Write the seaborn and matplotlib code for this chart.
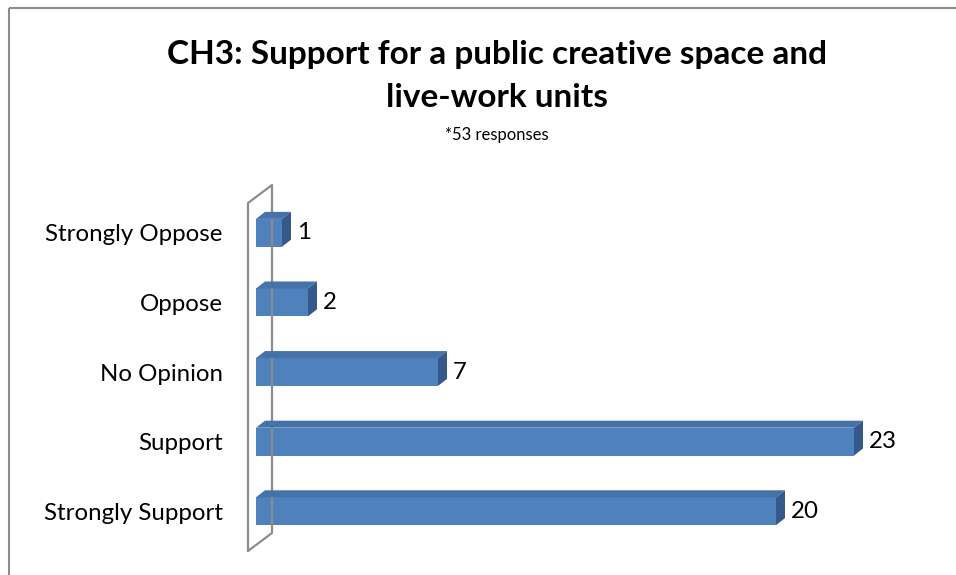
import matplotlib
matplotlib.use("Agg")
import matplotlib.pyplot as plt
import matplotlib.transforms as mtransforms
from matplotlib.patches import Polygon, Rectangle
from matplotlib.lines import Line2D
import seaborn as sns
import pandas as pd

categories = ["Strongly Oppose", "Oppose", "No Opinion", "Support", "Strongly Support"]
counts = [1, 2, 7, 23, 20]
title_text = "CH3: Support for a public creative space and\nlive-work units"
subtitle_text = "*53 responses"

FRONT = "#4F81BD"
TOP = "#4572A8"
SIDE = "#35598A"

sns.set_theme(style="white")
plt.rcParams["font.family"] = ["Lato", "DejaVu Sans"]

W, H = 956, 575
fig = plt.figure(figsize=(W / 100, H / 100), dpi=100)
fig.patch.set_facecolor("white")

# pixel helper: (x, y) from top-left in pixels -> figure fraction
px = mtransforms.Affine2D().scale(1 / W, -1 / H).translate(0, 1) + fig.transFigure

ax_left, ax_right, ax_top, ax_bottom = 256, 940, 198, 546
ax = fig.add_axes([ax_left / W, 1 - ax_bottom / H,
                   (ax_right - ax_left) / W, (ax_bottom - ax_top) / H])

df = pd.DataFrame({"category": categories, "count": counts})
sns.barplot(data=df, x="count", y="category", orient="h", ax=ax,
            color=FRONT, saturation=1, width=0.40, edgecolor="none", zorder=3)

label_size = 17.3
unit_px = 26.0
ax.set_xlim(0, (ax_right - ax_left) / unit_px)
ax.set_ylim(len(categories) - 0.5, -0.5)
for s in ax.spines.values():
    s.set_visible(False)
ax.set_xticks([])
ax.set_xlabel("")
ax.set_ylabel("")
ax.tick_params(axis="y", length=0, pad=24, labelsize=label_size, labelcolor="black")
ax.patch.set_alpha(0)

# 3D depth for each bar: top and side faces, offset in pixels
dx, dy = 9, 7
fig.canvas.draw()
to_disp = ax.transData
for bar, val in zip(ax.patches, counts):
    x0, y0 = bar.get_x(), bar.get_y()
    w, h = bar.get_width(), bar.get_height()
    (X0, Ytop) = to_disp.transform((x0, y0))
    (X1, Ybot) = to_disp.transform((x0 + w, y0 + h))
    top_face = [(X0, Ytop), (X1, Ytop), (X1 + dx, Ytop + dy), (X0 + dx, Ytop + dy)]
    side_face = [(X1, Ytop), (X1 + dx, Ytop + dy), (X1 + dx, Ybot + dy), (X1, Ybot)]
    fig.patches.append(Polygon(top_face, closed=True, facecolor=TOP, edgecolor="none",
                               transform=None, figure=fig, zorder=4))
    fig.patches.append(Polygon(side_face, closed=True, facecolor=SIDE, edgecolor="none",
                               transform=None, figure=fig, zorder=4))
    ax.annotate(f"{val}", xy=(x0 + w, y0 + h / 2), xytext=(dx + 6, 0),
                textcoords="offset pixels", ha="left", va="center",
                fontsize=label_size, color="black")

# side wall behind the category axis
wall = [(248, 551), (248, 203), (272, 185), (272, 533), (248, 551)]
fig.lines.append(Line2D([p[0] for p in wall], [p[1] for p in wall], color="#8C8C8C",
                        linewidth=1.6, transform=px, figure=fig))

# chart-area border
fig.patches.append(Rectangle((9.5, 8), 1000, 1000, fill=False, edgecolor="#8C8C8C",
                             linewidth=1.5, transform=px, figure=fig))

fig.text(497 / W, 1 - 76 / H, title_text, ha="center", va="center", fontsize=24,
         fontweight="bold", linespacing=1.62, color="black")
fig.text(497 / W, 1 - 135 / H, subtitle_text, ha="center", va="center", fontsize=12,
         color="black")

fig.savefig("out.png", dpi=100)
